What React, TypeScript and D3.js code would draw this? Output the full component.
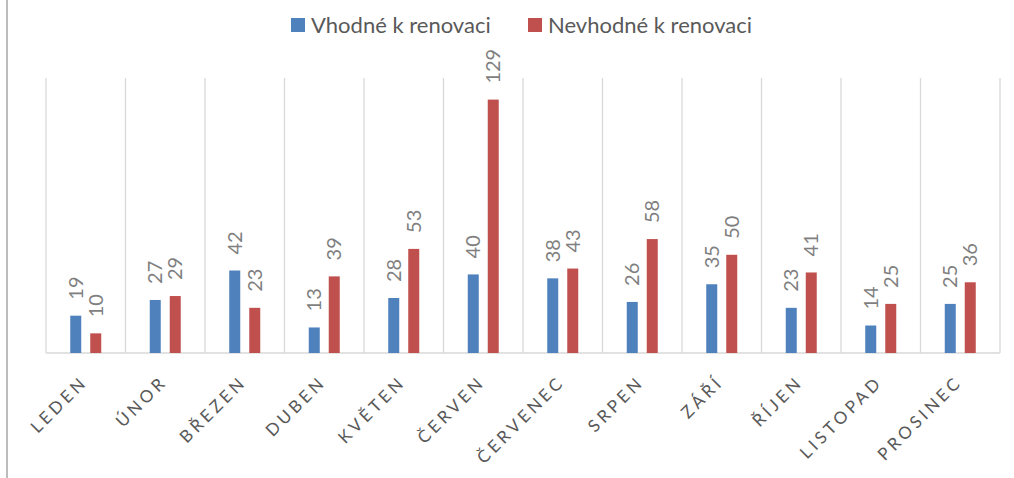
import * as d3 from "d3";
import * as React from "react";

const months = [
  "LEDEN", "ÚNOR", "BŘEZEN", "DUBEN", "KVĚTEN", "ČERVEN",
  "ČERVENEC", "SRPEN", "ZÁŘÍ", "ŘÍJEN", "LISTOPAD", "PROSINEC",
];
const seriesNames = ["Vhodné k renovaci", "Nevhodné k renovaci"];
const seriesColors = ["#4f81bd", "#c0504d"];
const suitable = [19, 27, 42, 13, 28, 40, 38, 26, 35, 23, 14, 25];
const unsuitable = [10, 29, 23, 39, 53, 129, 43, 58, 50, 41, 25, 36];

const width = 1014;
const height = 478;
const fontFamily = "Lato, 'Liberation Sans', sans-serif";

export default function App() {
  const ref = React.useRef<SVGSVGElement>(null);

  React.useEffect(() => {
    const svg = d3.select(ref.current);
    svg.selectAll("*").remove();

    const left = 46;
    const right = 1000;
    const top = 78;
    const bottom = 353;

    const x0 = d3.scaleBand<string>().domain(months).range([left, right]).padding(0);
    const bw = x0.bandwidth();
    const x1 = d3
      .scaleBand<string>()
      .domain(seriesNames)
      .range([bw / 2 - 15.5, bw / 2 + 15.5])
      .paddingInner(0.45)
      .paddingOuter(0);
    const y = d3.scaleLinear().domain([0, 140]).range([bottom, top]);

    // frame line on the left
    svg
      .append("line")
      .attr("x1", 7)
      .attr("x2", 7)
      .attr("y1", 0)
      .attr("y2", height)
      .attr("stroke", "#a6a6a6")
      .attr("stroke-width", 1.5);

    // vertical gridlines between categories
    const gridX = months.map((m) => x0(m)!).concat([right]);
    svg
      .append("g")
      .selectAll("line")
      .data(gridX)
      .enter()
      .append("line")
      .attr("x1", (d) => d)
      .attr("x2", (d) => d)
      .attr("y1", top)
      .attr("y2", bottom)
      .attr("stroke", "#d9d9d9")
      .attr("stroke-width", 1.3);

    // baseline
    svg
      .append("line")
      .attr("x1", left)
      .attr("x2", right)
      .attr("y1", bottom)
      .attr("y2", bottom)
      .attr("stroke", "#d9d9d9")
      .attr("stroke-width", 1.5);

    const rows = months.map((m, i) => ({
      month: m,
      values: [suitable[i], unsuitable[i]],
    }));

    const groups = svg
      .append("g")
      .selectAll("g")
      .data(rows)
      .enter()
      .append("g")
      .attr("transform", (d) => `translate(${x0(d.month)},0)`);

    const bars = groups
      .selectAll("g")
      .data((d) => d.values.map((v, j) => ({ v, j })))
      .enter()
      .append("g");

    bars
      .append("rect")
      .attr("x", (d) => x1(seriesNames[d.j])!)
      .attr("y", (d) => y(d.v))
      .attr("width", x1.bandwidth())
      .attr("height", (d) => bottom - y(d.v))
      .attr("fill", (d) => seriesColors[d.j]);

    // value labels, rotated
    bars
      .append("text")
      .attr(
        "transform",
        (d) =>
          `translate(${x1(seriesNames[d.j])! + x1.bandwidth() / 2 + 7},${y(d.v) - 16}) rotate(-90)`
      )
      .attr("text-anchor", "start")
      .attr("font-family", fontFamily)
      .attr("font-size", 20)
      .attr("fill", "#7f7f7f")
      .text((d) => d.v);

    // category labels
    svg
      .append("g")
      .selectAll("text")
      .data(months)
      .enter()
      .append("text")
      .attr("transform", (d) => `translate(${x0(d)! + bw / 2 + 3},${bottom + 30}) rotate(-45)`)
      .attr("text-anchor", "end")
      .attr("font-family", fontFamily)
      .attr("font-size", 17)
      .attr("letter-spacing", 3.6)
      .attr("fill", "#595959")
      .text((d) => d);

    // legend
    const legendX = [291, 528];
    const legend = svg
      .append("g")
      .selectAll("g")
      .data(seriesNames)
      .enter()
      .append("g")
      .attr("transform", (d, i) => `translate(${legendX[i]},18)`);
    legend
      .append("rect")
      .attr("width", 14)
      .attr("height", 14)
      .attr("fill", (d, i) => seriesColors[i]);
    legend
      .append("text")
      .attr("x", 20)
      .attr("y", 15)
      .attr("font-family", fontFamily)
      .attr("font-size", 22)
      .attr("fill", "#595959")
      .text((d) => d);
  }, []);

  return (
    <div style={{ position: "absolute", left: 0, top: 0 }}>
      <svg ref={ref} width={width} height={height} style={{ display: "block", background: "#fff" }} />
    </div>
  );
}
